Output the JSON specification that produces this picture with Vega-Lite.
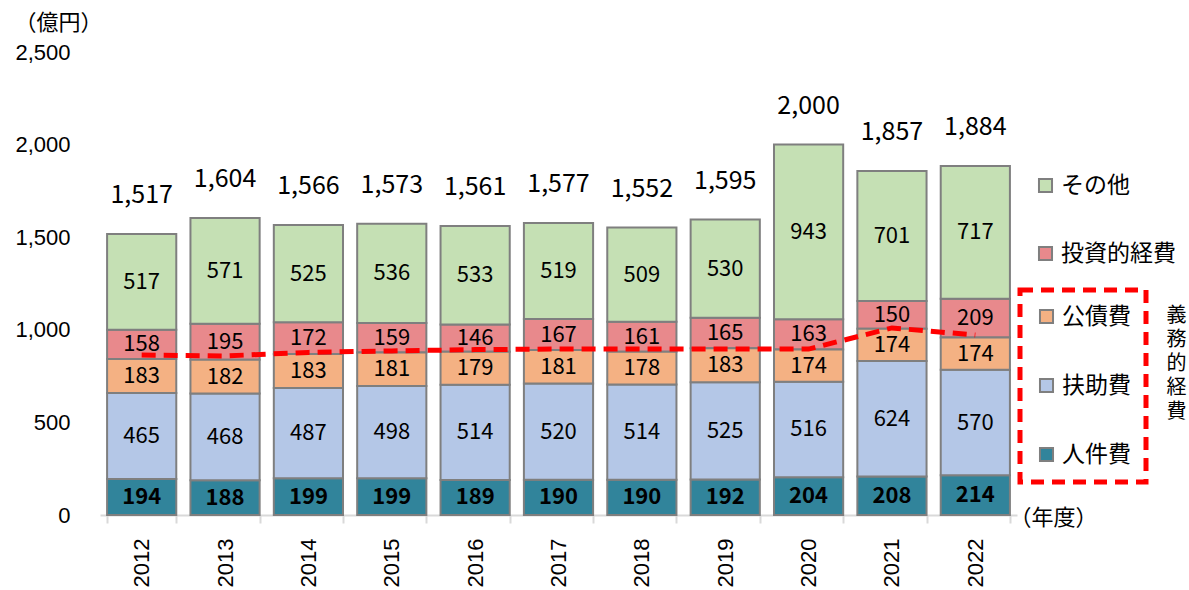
{
  "$schema": "https://vega.github.io/schema/vega-lite/v6.json",
  "width": 917,
  "height": 463,
  "autosize": {"type": "none"},
  "padding": {"left": 100, "top": 52, "right": 172, "bottom": 75},
  "background": "white",
  "config": {
    "view": {"stroke": null},
    "font": "Noto Sans CJK JP",
    "legend": {"strokeDash": [13, 8], "strokeWidth": 5}
  },
  "datasets": {
    "costs": [
      {"year": "2012", "category": "人件費", "value": 194},
      {"year": "2012", "category": "扶助費", "value": 465},
      {"year": "2012", "category": "公債費", "value": 183},
      {"year": "2012", "category": "投資的経費", "value": 158},
      {"year": "2012", "category": "その他", "value": 517},
      {"year": "2013", "category": "人件費", "value": 188},
      {"year": "2013", "category": "扶助費", "value": 468},
      {"year": "2013", "category": "公債費", "value": 182},
      {"year": "2013", "category": "投資的経費", "value": 195},
      {"year": "2013", "category": "その他", "value": 571},
      {"year": "2014", "category": "人件費", "value": 199},
      {"year": "2014", "category": "扶助費", "value": 487},
      {"year": "2014", "category": "公債費", "value": 183},
      {"year": "2014", "category": "投資的経費", "value": 172},
      {"year": "2014", "category": "その他", "value": 525},
      {"year": "2015", "category": "人件費", "value": 199},
      {"year": "2015", "category": "扶助費", "value": 498},
      {"year": "2015", "category": "公債費", "value": 181},
      {"year": "2015", "category": "投資的経費", "value": 159},
      {"year": "2015", "category": "その他", "value": 536},
      {"year": "2016", "category": "人件費", "value": 189},
      {"year": "2016", "category": "扶助費", "value": 514},
      {"year": "2016", "category": "公債費", "value": 179},
      {"year": "2016", "category": "投資的経費", "value": 146},
      {"year": "2016", "category": "その他", "value": 533},
      {"year": "2017", "category": "人件費", "value": 190},
      {"year": "2017", "category": "扶助費", "value": 520},
      {"year": "2017", "category": "公債費", "value": 181},
      {"year": "2017", "category": "投資的経費", "value": 167},
      {"year": "2017", "category": "その他", "value": 519},
      {"year": "2018", "category": "人件費", "value": 190},
      {"year": "2018", "category": "扶助費", "value": 514},
      {"year": "2018", "category": "公債費", "value": 178},
      {"year": "2018", "category": "投資的経費", "value": 161},
      {"year": "2018", "category": "その他", "value": 509},
      {"year": "2019", "category": "人件費", "value": 192},
      {"year": "2019", "category": "扶助費", "value": 525},
      {"year": "2019", "category": "公債費", "value": 183},
      {"year": "2019", "category": "投資的経費", "value": 165},
      {"year": "2019", "category": "その他", "value": 530},
      {"year": "2020", "category": "人件費", "value": 204},
      {"year": "2020", "category": "扶助費", "value": 516},
      {"year": "2020", "category": "公債費", "value": 174},
      {"year": "2020", "category": "投資的経費", "value": 163},
      {"year": "2020", "category": "その他", "value": 943},
      {"year": "2021", "category": "人件費", "value": 208},
      {"year": "2021", "category": "扶助費", "value": 624},
      {"year": "2021", "category": "公債費", "value": 174},
      {"year": "2021", "category": "投資的経費", "value": 150},
      {"year": "2021", "category": "その他", "value": 701},
      {"year": "2022", "category": "人件費", "value": 214},
      {"year": "2022", "category": "扶助費", "value": 570},
      {"year": "2022", "category": "公債費", "value": 174},
      {"year": "2022", "category": "投資的経費", "value": 209},
      {"year": "2022", "category": "その他", "value": 717}
    ],
    "mandatory": [
      {"year": "2012", "value": 864},
      {"year": "2013", "value": 859},
      {"year": "2014", "value": 878},
      {"year": "2015", "value": 886},
      {"year": "2016", "value": 893},
      {"year": "2017", "value": 896},
      {"year": "2018", "value": 896},
      {"year": "2019", "value": 896},
      {"year": "2020", "value": 896},
      {"year": "2021", "value": 1010},
      {"year": "2022", "value": 972}
    ]
  },
  "encoding": {
    "x": {
      "field": "year",
      "type": "ordinal",
      "scale": {"paddingInner": 0.17, "paddingOuter": 0.085},
      "axis": {
        "title": "（年度）",
        "titleX": 953,
        "titleY": 2,
        "titleAlign": "center",
        "titleBaseline": "middle",
        "titleFontSize": 22,
        "titleFontWeight": "normal",
        "titleColor": "#000000",
        "labelAngle": -90,
        "labelFont": "Liberation Sans",
        "labelFontSize": 22,
        "labelColor": "#000000",
        "labelPadding": 15,
        "tickBand": "extent",
        "tickSize": 8,
        "tickWidth": 2,
        "tickColor": "#d9d9d9",
        "domainColor": "#d9d9d9",
        "domainWidth": 2
      }
    }
  },
  "layer": [
    {
      "data": {"name": "costs"},
      "transform": [
        {"stack": "value", "groupby": ["year"], "as": ["y0", "y1"]},
        {"filter": "datum.category === 'その他' || datum.category === '投資的経費'"}
      ],
      "mark": {"type": "bar", "stroke": "#7f7f7f", "strokeWidth": 2},
      "encoding": {
        "y": {
          "field": "y0",
          "type": "quantitative",
          "scale": {"domain": [0, 2500], "nice": false},
          "axis": {
            "values": [0, 500, 1000, 1500, 2000, 2500],
            "format": ",d",
            "domain": false,
            "ticks": false,
            "grid": false,
            "labelPadding": 30,
            "labelFont": "Liberation Sans",
            "labelFontSize": 22,
            "labelColor": "#000000",
            "title": "（億円）",
            "titleAngle": 0,
            "titleX": -42,
            "titleY": -30,
            "titleAlign": "center",
            "titleBaseline": "middle",
            "titleFontSize": 22,
            "titleFontWeight": "normal",
            "titleColor": "#000000"
          }
        },
        "y2": {"field": "y1"},
        "color": {
          "field": "category",
          "type": "nominal",
          "scale": {"domain": ["その他", "投資的経費"], "range": ["#c5e0b4", "#e8898c"]},
          "legend": {
            "orient": "none",
            "legendX": 920,
            "legendY": 108,
            "title": null,
            "padding": 14,
            "rowPadding": 44,
            "labelFontSize": 23,
            "labelColor": "#000000",
            "labelOffset": 4,
            "symbolType": "square",
            "symbolSize": 170,
            "symbolStrokeColor": "#7f7f7f",
            "symbolStrokeWidth": 2
          }
        }
      }
    },
    {
      "data": {"name": "costs"},
      "transform": [
        {"stack": "value", "groupby": ["year"], "as": ["y0", "y1"]},
        {"filter": "datum.category !== 'その他' && datum.category !== '投資的経費'"}
      ],
      "mark": {"type": "bar", "stroke": "#7f7f7f", "strokeWidth": 2},
      "encoding": {
        "y": {"field": "y0", "type": "quantitative", "axis": null},
        "y2": {"field": "y1"},
        "fill": {
          "field": "category",
          "type": "nominal",
          "scale": {"domain": ["公債費", "扶助費", "人件費"], "range": ["#f4b183", "#b4c7e7", "#31849b"]},
          "legend": {
            "orient": "none",
            "legendX": 920,
            "legendY": 238,
            "title": null,
            "padding": 15,
            "rowPadding": 45,
            "labelFontSize": 23,
            "labelColor": "#000000",
            "labelOffset": 4,
            "symbolType": "square",
            "symbolSize": 170,
            "symbolStrokeColor": "#7f7f7f",
            "symbolStrokeWidth": 2,
            "strokeColor": "#ff0000"
          }
        }
      }
    },
    {
      "data": {"name": "costs"},
      "transform": [
        {"stack": "value", "groupby": ["year"], "as": ["y0", "y1"]},
        {"fold": ["y0", "y1"], "as": ["edge", "pos"]},
        {"aggregate": [{"op": "mean", "field": "pos", "as": "mid"}], "groupby": ["year", "category", "value"]},
        {"filter": "datum.category !== '人件費'"}
      ],
      "mark": {"type": "text", "fontSize": 22, "color": "#000000", "baseline": "middle"},
      "encoding": {
        "y": {"field": "mid", "type": "quantitative", "axis": null},
        "text": {"field": "value", "type": "quantitative"}
      }
    },
    {
      "data": {"name": "costs"},
      "transform": [
        {"stack": "value", "groupby": ["year"], "as": ["y0", "y1"]},
        {"fold": ["y0", "y1"], "as": ["edge", "pos"]},
        {"aggregate": [{"op": "mean", "field": "pos", "as": "mid"}], "groupby": ["year", "category", "value"]},
        {"filter": "datum.category === '人件費'"}
      ],
      "mark": {"type": "text", "fontSize": 22, "fontWeight": "bold", "color": "#000000", "baseline": "middle"},
      "encoding": {
        "y": {"field": "mid", "type": "quantitative", "axis": null},
        "text": {"field": "value", "type": "quantitative"}
      }
    },
    {
      "data": {"name": "costs"},
      "mark": {"type": "text", "fontSize": 25, "color": "#000000", "baseline": "alphabetic", "dy": -31},
      "encoding": {
        "y": {"aggregate": "sum", "field": "value", "type": "quantitative", "axis": null},
        "text": {"aggregate": "sum", "field": "value", "type": "quantitative", "format": ","}
      }
    },
    {
      "data": {"name": "mandatory"},
      "mark": {"type": "line", "color": "#ff0000", "strokeWidth": 5, "strokeDash": [14, 8]},
      "encoding": {
        "y": {
          "field": "value",
          "type": "quantitative",
          "axis": {
            "orient": "right",
            "labels": false,
            "ticks": false,
            "domain": false,
            "grid": false,
            "title": ["義", "務", "的", "経", "費"],
            "titleAngle": 0,
            "titleX": 159,
            "titleY": 253,
            "titleAlign": "center",
            "titleBaseline": "top",
            "titleLineHeight": 24,
            "titleFontSize": 20,
            "titleFontWeight": "normal",
            "titleColor": "#000000"
          }
        }
      }
    }
  ],
  "resolve": {"axis": {"y": "independent"}}
}
